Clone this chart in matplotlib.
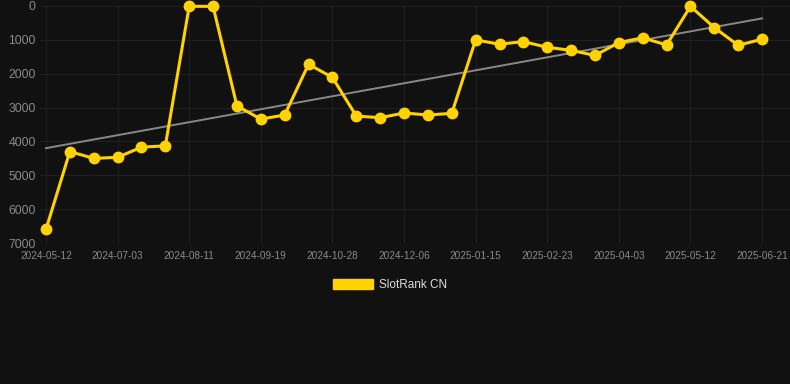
import numpy as np
import matplotlib
matplotlib.use("Agg")
import matplotlib.pyplot as plt
import matplotlib.patches as mpatches

plt.rcParams['font.family'] = ['Liberation Sans', 'DejaVu Sans']

# data
tick_labels = ['2024-05-12', '2024-07-03', '2024-08-11', '2024-09-19', '2024-10-28',
               '2024-12-06', '2025-01-15', '2025-02-23', '2025-04-03', '2025-05-12',
               '2025-06-21']
rank = [6600, 4300, 4500, 4470, 4170, 4130, 10, 10, 2950, 3340, 3220,
        1720, 2110, 3250, 3300, 3160, 3220, 3170, 1000, 1130, 1050,
        1220, 1310, 1460, 1080, 940, 1150, 10, 640, 1160, 980]
series_name = 'SlotRank CN'

BG = '#111111'
GOLD = '#FFD200'

fig = plt.figure(figsize=(7.9, 3.84), dpi=100, facecolor=BG)
ax = fig.add_axes([40 / 790, 1 - 243 / 384, 750 / 790, 237 / 384], facecolor=BG)

x = np.arange(len(rank))

# trend line (linear fit)
coef = np.polyfit(x, rank, 1)
ax.plot(x, np.polyval(coef, x), color='#888888', lw=1.4, zorder=2)

ax.plot(x, rank, color=GOLD, lw=2.2, marker='o', markersize=7.5,
        markerfacecolor=GOLD, markeredgecolor=GOLD, zorder=3, clip_on=False)

ax.set_xlim(-0.25, 31.17)
ax.set_ylim(7000, 0)
ax.set_yticks(range(0, 7001, 1000))
ax.set_xticks(x[::3])
ax.set_xticklabels(tick_labels)

ax.grid(True, color='#1f1f1f', lw=0.8)
ax.set_axisbelow(True)
for s in ax.spines.values():
    s.set_visible(False)
ax.tick_params(axis='both', length=0, colors='#8a8a8a')
ax.tick_params(axis='y', labelsize=8.8, pad=3)
ax.tick_params(axis='x', labelsize=7.2, pad=6)

handle = mpatches.Patch(facecolor=GOLD, edgecolor=GOLD, label=series_name)
leg = fig.legend(handles=[handle], loc='center', bbox_to_anchor=(390 / 790, 1 - 285 / 384),
                 frameon=False, fontsize=8.5, handlelength=3.4, handleheight=1.0,
                 handletextpad=0.5)
for t in leg.get_texts():
    t.set_color('#dddddd')

fig.savefig('out.png', dpi=100, facecolor=BG)
